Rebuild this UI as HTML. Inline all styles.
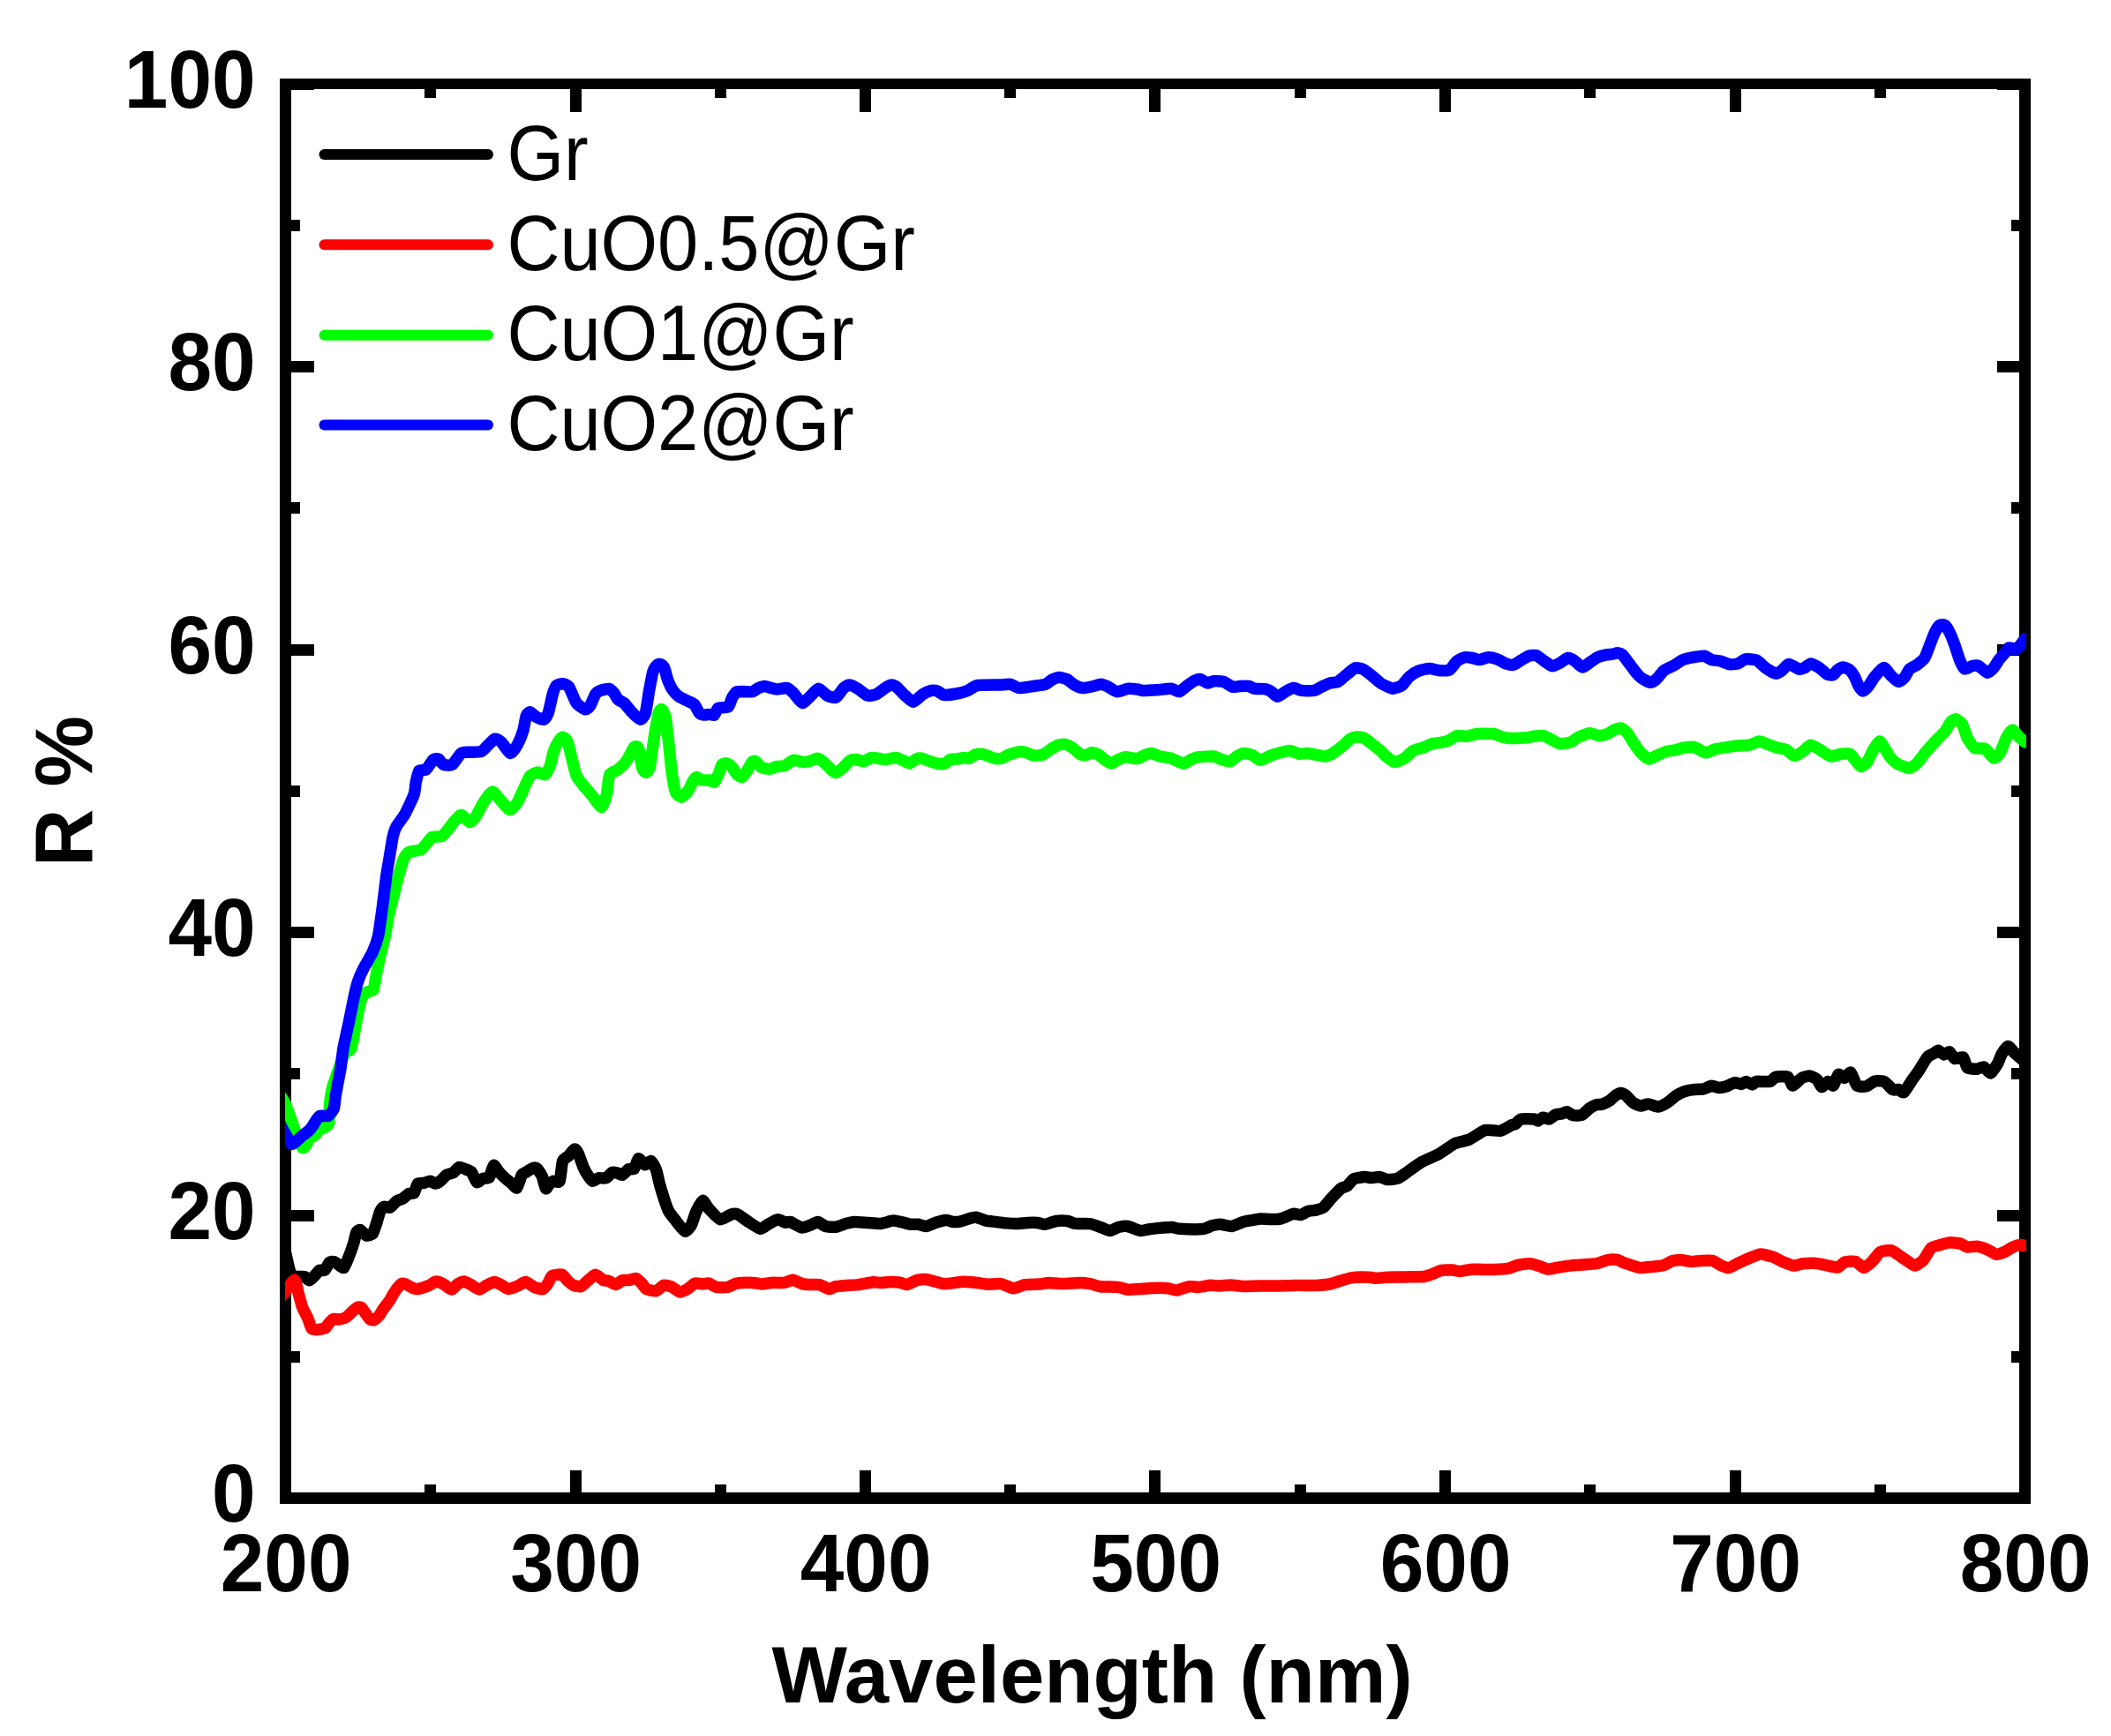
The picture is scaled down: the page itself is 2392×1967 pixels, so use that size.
<!DOCTYPE html>
<html lang="en"><head><meta charset="utf-8"><title>R % vs Wavelength</title>
<style>html,body{margin:0;padding:0;background:#fff;}body{width:2392px;height:1967px;overflow:hidden;}svg{display:block;}text{font-family:"Liberation Sans",sans-serif;fill:#000;}.b{font-weight:bold;font-size:90px;}.l{font-size:83.5px;}.c{fill:none;stroke-width:13.5;stroke-linejoin:round;stroke-linecap:round;}</style></head><body>
<svg width="2392" height="1967" viewBox="0 0 2392 1967">
<rect width="2392" height="1967" fill="#fff"/>
<defs><clipPath id="cp"><rect x="323" y="101" width="1973" height="1590"/></clipPath></defs>
<g id="frame" shape-rendering="crispEdges">
<rect x="317.00" y="89.00" width="13.00" height="1615.00" fill="#000"/>
<rect x="2288.00" y="89.00" width="13.00" height="1615.00" fill="#000"/>
<rect x="317.00" y="89.00" width="1984.00" height="12.00" fill="#000"/>
<rect x="317.00" y="1691.00" width="1984.00" height="13.00" fill="#000"/>
<rect x="317.00" y="95.00" width="13.00" height="32.00" fill="#000"/>
<rect x="317.00" y="1665.50" width="13.00" height="32.00" fill="#000"/>
<rect x="481.00" y="95.00" width="13.00" height="16.00" fill="#000"/>
<rect x="481.00" y="1681.50" width="13.00" height="16.00" fill="#000"/>
<rect x="646.00" y="95.00" width="13.00" height="32.00" fill="#000"/>
<rect x="646.00" y="1665.50" width="13.00" height="32.00" fill="#000"/>
<rect x="810.00" y="95.00" width="13.00" height="16.00" fill="#000"/>
<rect x="810.00" y="1681.50" width="13.00" height="16.00" fill="#000"/>
<rect x="974.00" y="95.00" width="13.00" height="32.00" fill="#000"/>
<rect x="974.00" y="1665.50" width="13.00" height="32.00" fill="#000"/>
<rect x="1138.00" y="95.00" width="13.00" height="16.00" fill="#000"/>
<rect x="1138.00" y="1681.50" width="13.00" height="16.00" fill="#000"/>
<rect x="1302.00" y="95.00" width="13.00" height="32.00" fill="#000"/>
<rect x="1302.00" y="1665.50" width="13.00" height="32.00" fill="#000"/>
<rect x="1467.00" y="95.00" width="13.00" height="16.00" fill="#000"/>
<rect x="1467.00" y="1681.50" width="13.00" height="16.00" fill="#000"/>
<rect x="1631.00" y="95.00" width="13.00" height="32.00" fill="#000"/>
<rect x="1631.00" y="1665.50" width="13.00" height="32.00" fill="#000"/>
<rect x="1795.00" y="95.00" width="13.00" height="16.00" fill="#000"/>
<rect x="1795.00" y="1681.50" width="13.00" height="16.00" fill="#000"/>
<rect x="1960.00" y="95.00" width="13.00" height="32.00" fill="#000"/>
<rect x="1960.00" y="1665.50" width="13.00" height="32.00" fill="#000"/>
<rect x="2124.00" y="95.00" width="13.00" height="16.00" fill="#000"/>
<rect x="2124.00" y="1681.50" width="13.00" height="16.00" fill="#000"/>
<rect x="2288.00" y="95.00" width="13.00" height="32.00" fill="#000"/>
<rect x="2288.00" y="1665.50" width="13.00" height="32.00" fill="#000"/>
<rect x="323.50" y="89.00" width="32.00" height="13.00" fill="#000"/>
<rect x="2262.50" y="89.00" width="32.00" height="13.00" fill="#000"/>
<rect x="323.50" y="249.00" width="16.00" height="13.00" fill="#000"/>
<rect x="2278.50" y="249.00" width="16.00" height="13.00" fill="#000"/>
<rect x="323.50" y="409.00" width="32.00" height="13.00" fill="#000"/>
<rect x="2262.50" y="409.00" width="32.00" height="13.00" fill="#000"/>
<rect x="323.50" y="569.00" width="16.00" height="13.00" fill="#000"/>
<rect x="2278.50" y="569.00" width="16.00" height="13.00" fill="#000"/>
<rect x="323.50" y="730.00" width="32.00" height="13.00" fill="#000"/>
<rect x="2262.50" y="730.00" width="32.00" height="13.00" fill="#000"/>
<rect x="323.50" y="890.00" width="16.00" height="13.00" fill="#000"/>
<rect x="2278.50" y="890.00" width="16.00" height="13.00" fill="#000"/>
<rect x="323.50" y="1050.00" width="32.00" height="13.00" fill="#000"/>
<rect x="2262.50" y="1050.00" width="32.00" height="13.00" fill="#000"/>
<rect x="323.50" y="1210.00" width="16.00" height="13.00" fill="#000"/>
<rect x="2278.50" y="1210.00" width="16.00" height="13.00" fill="#000"/>
<rect x="323.50" y="1371.00" width="32.00" height="13.00" fill="#000"/>
<rect x="2262.50" y="1371.00" width="32.00" height="13.00" fill="#000"/>
<rect x="323.50" y="1531.00" width="16.00" height="13.00" fill="#000"/>
<rect x="2278.50" y="1531.00" width="16.00" height="13.00" fill="#000"/>
<rect x="323.50" y="1691.00" width="32.00" height="13.00" fill="#000"/>
<rect x="2262.50" y="1691.00" width="32.00" height="13.00" fill="#000"/>
</g>
<g clip-path="url(#cp)">
<path class="c" stroke="#000000" d="M313.0,1375.4C314.0,1379.6 321.4,1410.5 323.0,1417.1C324.6,1423.7 327.7,1438.8 328.9,1441.7C330.1,1444.6 333.0,1445.9 334.6,1446.4C336.2,1446.9 343.5,1446.2 345.1,1446.6C346.7,1447.0 349.5,1450.9 350.7,1450.7C351.9,1450.5 356.3,1445.6 357.4,1444.5C358.5,1443.4 361.1,1439.8 362.1,1439.3C363.1,1438.8 366.7,1440.2 367.8,1439.3C368.9,1438.4 372.4,1431.2 373.5,1430.3C374.6,1429.3 378.0,1429.4 379.2,1429.8C380.4,1430.2 384.8,1433.9 385.8,1434.6C386.8,1435.3 388.8,1437.1 389.6,1436.5C390.4,1435.9 392.6,1430.2 393.4,1428.4C394.2,1426.6 396.4,1421.0 397.2,1418.9C398.0,1416.8 400.3,1409.8 401.0,1407.6C401.7,1405.4 403.1,1397.9 403.8,1396.5C404.5,1395.1 407.0,1393.2 408.1,1393.6C409.2,1393.9 413.8,1399.6 415.2,1400.0C416.6,1400.4 421.2,1399.2 422.3,1397.9C423.4,1396.6 425.6,1389.1 426.5,1386.5C427.4,1383.9 429.9,1374.2 430.8,1372.3C431.7,1370.4 434.0,1367.7 435.1,1367.3C436.2,1366.9 440.8,1368.7 442.2,1368.1C443.6,1367.5 447.9,1362.0 449.3,1361.0C450.7,1360.0 455.0,1359.0 456.4,1358.1C457.8,1357.2 462.2,1353.0 463.5,1352.4C464.8,1351.8 468.2,1352.8 469.2,1351.7C470.2,1350.6 472.3,1342.2 473.4,1341.1C474.5,1340.0 479.1,1340.6 480.5,1340.3C481.9,1340.0 486.3,1338.1 487.6,1338.2C488.9,1338.3 492.2,1341.1 493.3,1341.1C494.4,1341.1 497.7,1339.2 499.0,1338.2C500.3,1337.2 504.7,1332.0 506.1,1331.1C507.5,1330.2 511.8,1329.8 513.2,1329.0C514.6,1328.2 518.9,1323.0 520.3,1322.6C521.7,1322.2 526.0,1324.1 527.4,1324.7C528.8,1325.3 533.2,1326.8 534.5,1328.3C535.8,1329.8 538.9,1338.9 540.2,1339.6C541.5,1340.3 545.9,1336.0 547.3,1335.4C548.7,1334.8 553.2,1335.5 554.4,1334.0C555.6,1332.5 558.3,1321.1 559.4,1320.5C560.5,1319.9 564.4,1326.8 565.8,1328.3C567.1,1329.8 571.5,1334.1 572.9,1335.4C574.3,1336.7 578.7,1340.0 580.0,1341.1C581.3,1342.2 584.6,1347.0 585.7,1346.0C586.8,1345.0 590.4,1332.9 591.4,1331.1C592.4,1329.3 594.4,1329.2 595.7,1328.4C597.0,1327.6 602.9,1323.8 604.2,1323.4C605.5,1323.0 607.5,1323.2 608.5,1324.1C609.5,1325.0 613.2,1330.3 614.2,1332.6C615.2,1334.9 617.5,1345.9 618.4,1346.8C619.2,1347.7 621.9,1342.0 622.7,1341.2C623.6,1340.4 625.8,1338.6 626.9,1338.3C628.0,1338.0 633.0,1340.6 634.1,1338.3C635.2,1336.0 636.6,1318.4 637.6,1315.6C638.6,1312.8 642.6,1311.2 644.0,1309.9C645.4,1308.6 650.0,1302.4 651.1,1302.1C652.2,1301.8 654.4,1305.0 655.4,1307.1C656.4,1309.2 660.0,1320.2 661.1,1322.7C662.2,1325.2 665.6,1331.0 666.7,1332.6C667.8,1334.2 670.6,1338.1 671.7,1338.3C672.8,1338.5 676.6,1335.1 678.1,1334.8C679.6,1334.5 685.0,1335.4 686.6,1334.8C688.2,1334.2 692.4,1329.0 693.7,1328.4C695.0,1327.8 698.3,1328.8 699.4,1329.1C700.5,1329.4 703.8,1331.6 705.1,1331.2C706.4,1330.8 710.9,1325.5 712.2,1324.8C713.6,1324.1 717.5,1325.3 718.6,1324.1C719.7,1322.9 722.4,1313.1 723.6,1312.7C724.8,1312.3 729.3,1319.5 730.7,1319.8C732.1,1320.1 736.5,1315.0 737.8,1315.6C739.1,1316.2 742.5,1322.8 743.5,1325.5C744.5,1328.2 746.7,1339.0 747.7,1342.6C748.7,1346.2 752.4,1358.1 753.4,1361.1C754.4,1364.1 756.4,1370.1 757.7,1372.4C759.0,1374.7 764.4,1381.5 766.2,1383.8C768.1,1386.1 774.5,1394.8 776.2,1395.2C777.9,1395.6 782.0,1390.4 783.3,1388.1C784.6,1385.8 787.7,1375.2 789.0,1372.4C790.3,1369.6 794.7,1360.6 796.1,1360.3C797.5,1360.0 801.2,1367.5 803.2,1369.6C805.2,1371.7 813.5,1381.1 816.0,1381.7C818.5,1382.3 826.7,1376.6 828.7,1376.0C830.7,1375.4 834.0,1375.2 835.9,1376.0C837.8,1376.8 844.7,1382.2 847.2,1383.8C849.8,1385.4 859.0,1392.0 861.4,1392.3C863.8,1392.6 869.4,1387.7 871.4,1386.6C873.4,1385.5 879.5,1381.8 881.4,1381.7C883.2,1381.6 888.5,1384.9 889.9,1385.2C891.3,1385.5 893.8,1383.9 895.6,1384.5C897.5,1385.1 906.1,1390.5 908.4,1390.9C910.7,1391.3 916.5,1388.7 918.3,1388.1C920.1,1387.5 925.1,1384.4 926.8,1384.5C928.5,1384.6 933.4,1388.9 935.4,1389.5C937.4,1390.1 944.4,1390.5 946.7,1390.2C949.0,1389.9 956.0,1387.2 958.1,1386.6C960.2,1386.0 965.5,1384.6 968.1,1384.5C970.7,1384.4 980.7,1385.3 983.7,1385.5C986.7,1385.7 995.1,1386.6 997.9,1386.4C1000.7,1386.2 1009.7,1383.2 1012.1,1383.1C1014.5,1382.9 1020.1,1384.5 1022.1,1384.9C1024.1,1385.3 1030.2,1387.1 1032.0,1387.3C1033.8,1387.5 1038.8,1387.1 1040.5,1387.3C1042.2,1387.5 1047.1,1389.7 1049.1,1389.5C1051.1,1389.3 1058.1,1385.9 1060.4,1385.2C1062.7,1384.5 1069.8,1382.5 1071.8,1382.4C1073.8,1382.3 1078.6,1384.4 1080.3,1384.5C1082.0,1384.6 1087.2,1384.1 1088.9,1383.8C1090.6,1383.5 1095.7,1381.5 1097.4,1381.0C1099.1,1380.5 1103.9,1379.0 1105.9,1379.2C1107.9,1379.4 1115.0,1382.6 1117.3,1383.1C1119.6,1383.6 1126.3,1384.2 1128.6,1384.5C1130.9,1384.8 1137.7,1385.7 1140.0,1385.9C1142.3,1386.1 1149.0,1386.6 1151.4,1386.6C1153.8,1386.6 1161.8,1385.6 1164.2,1385.5C1166.6,1385.4 1173.6,1385.3 1175.6,1385.5C1177.6,1385.7 1182.0,1387.5 1184.1,1387.3C1186.2,1387.1 1194.3,1383.9 1196.9,1383.5C1199.5,1383.1 1207.6,1383.2 1209.7,1383.5C1211.8,1383.8 1215.6,1386.1 1218.2,1386.4C1220.8,1386.7 1232.3,1386.1 1235.3,1386.6C1238.3,1387.0 1245.8,1390.1 1248.1,1390.9C1250.4,1391.7 1256.0,1394.6 1258.0,1394.5C1260.0,1394.4 1266.0,1390.7 1268.0,1390.2C1270.0,1389.7 1275.5,1389.1 1277.9,1389.5C1280.3,1389.9 1289.5,1394.2 1292.1,1394.5C1294.7,1394.8 1300.0,1393.0 1303.5,1392.6C1307.0,1392.2 1324.3,1390.6 1327.6,1390.6C1330.9,1390.6 1332.6,1392.1 1336.2,1392.3C1339.8,1392.5 1359.5,1392.9 1363.2,1392.6C1366.9,1392.2 1371.1,1389.3 1373.1,1388.8C1375.1,1388.3 1380.8,1387.2 1383.1,1387.3C1385.4,1387.4 1393.4,1389.8 1395.9,1389.5C1398.5,1389.2 1406.2,1385.2 1408.6,1384.5C1411.0,1383.8 1418.0,1382.8 1420.0,1382.4C1422.0,1382.1 1426.5,1381.1 1428.5,1381.0C1430.5,1380.9 1437.6,1381.5 1439.9,1381.5C1442.2,1381.5 1448.7,1381.4 1451.3,1380.8C1453.9,1380.2 1463.2,1375.8 1465.5,1375.4C1467.8,1375.0 1472.4,1376.8 1474.1,1376.5C1475.8,1376.2 1480.9,1372.8 1482.6,1372.3C1484.3,1371.8 1489.4,1371.5 1491.1,1371.1C1492.8,1370.7 1497.9,1369.3 1499.6,1368.0C1501.3,1366.7 1506.2,1360.2 1508.2,1358.1C1510.2,1356.0 1517.7,1348.1 1519.5,1346.7C1521.3,1345.3 1525.2,1344.9 1526.6,1343.8C1528.0,1342.7 1531.7,1337.0 1533.7,1336.0C1535.7,1335.0 1544.5,1333.7 1546.5,1333.6C1548.5,1333.5 1551.9,1334.6 1553.6,1334.6C1555.3,1334.6 1561.8,1333.4 1563.6,1333.6C1565.4,1333.8 1570.1,1336.3 1572.1,1336.5C1574.1,1336.7 1581.4,1336.1 1583.5,1335.3C1585.6,1334.5 1590.7,1330.8 1593.4,1328.9C1596.1,1327.1 1606.8,1318.9 1610.5,1316.8C1614.2,1314.7 1626.6,1309.7 1630.4,1307.6C1634.2,1305.5 1645.5,1297.1 1648.9,1295.5C1652.3,1293.9 1661.1,1292.8 1664.5,1291.3C1667.9,1289.8 1679.5,1281.6 1683.0,1280.6C1686.5,1279.6 1697.0,1281.9 1700.0,1281.3C1703.0,1280.7 1711.1,1275.7 1712.8,1274.9C1714.5,1274.1 1716.0,1274.3 1717.1,1273.6C1718.2,1272.9 1721.4,1268.6 1723.5,1268.0C1725.6,1267.4 1736.5,1267.8 1738.4,1268.0C1740.3,1268.2 1741.7,1270.3 1742.7,1270.1C1743.7,1269.9 1747.1,1266.4 1748.4,1266.2C1749.7,1266.0 1754.1,1268.3 1755.5,1268.0C1756.9,1267.7 1761.2,1263.6 1762.6,1263.0C1764.0,1262.4 1768.4,1262.3 1769.7,1262.0C1771.0,1261.7 1774.1,1259.5 1775.4,1259.7C1776.7,1259.9 1780.8,1263.3 1782.5,1263.7C1784.2,1264.1 1790.6,1264.2 1792.4,1263.4C1794.2,1262.6 1799.4,1257.0 1801.0,1255.9C1802.6,1254.8 1806.7,1252.5 1808.1,1252.0C1809.5,1251.5 1813.6,1251.7 1815.2,1251.2C1816.8,1250.7 1822.1,1248.3 1823.7,1247.3C1825.3,1246.3 1829.5,1241.9 1830.8,1241.0C1832.1,1240.1 1835.4,1238.4 1836.5,1238.4C1837.6,1238.4 1840.8,1239.9 1842.2,1241.0C1843.6,1242.1 1849.0,1248.3 1850.7,1249.5C1852.4,1250.7 1857.5,1252.9 1859.2,1253.0C1860.9,1253.1 1865.7,1250.8 1867.7,1250.9C1869.7,1251.0 1877.0,1254.1 1879.1,1254.0C1881.2,1253.9 1887.1,1250.7 1889.1,1249.5C1891.1,1248.3 1897.0,1243.0 1899.0,1241.7C1901.0,1240.4 1907.0,1237.4 1909.0,1236.7C1911.0,1236.0 1916.8,1234.9 1918.9,1234.6C1921.0,1234.3 1928.2,1234.2 1930.3,1233.8C1932.4,1233.4 1937.8,1230.4 1939.5,1230.3C1941.2,1230.2 1945.7,1232.3 1947.3,1232.4C1948.9,1232.5 1954.1,1231.6 1955.9,1231.0C1957.8,1230.4 1964.1,1227.0 1965.8,1226.7C1967.5,1226.4 1971.6,1228.5 1972.9,1228.4C1974.2,1228.3 1977.3,1225.5 1978.6,1225.6C1979.9,1225.6 1984.6,1228.9 1985.7,1228.9C1986.8,1228.9 1988.0,1225.8 1990.0,1225.4C1992.0,1225.1 2003.4,1225.9 2005.6,1225.4C2007.8,1224.9 2009.9,1220.9 2011.9,1220.4C2013.9,1219.9 2024.0,1219.4 2026.0,1220.4C2028.0,1221.4 2029.8,1229.9 2031.4,1230.0C2033.0,1230.1 2039.6,1222.5 2041.6,1221.4C2043.6,1220.3 2049.3,1218.9 2051.0,1219.1C2052.7,1219.3 2057.5,1221.8 2058.8,1223.0C2060.1,1224.2 2063.1,1231.4 2064.3,1231.6C2065.6,1231.8 2070.0,1225.6 2071.3,1225.4C2072.6,1225.2 2076.3,1230.8 2077.5,1230.0C2078.7,1229.2 2081.8,1218.4 2083.0,1217.5C2084.2,1216.6 2088.6,1221.6 2090.0,1221.4C2091.4,1221.2 2095.7,1214.3 2097.1,1215.2C2098.5,1216.1 2102.3,1228.4 2104.1,1230.0C2105.9,1231.6 2113.1,1231.3 2115.1,1230.8C2117.1,1230.3 2122.4,1225.5 2124.4,1225.0C2126.4,1224.5 2133.4,1224.7 2135.4,1225.7C2137.4,1226.7 2143.2,1233.8 2144.8,1234.7C2146.4,1235.6 2149.8,1234.1 2151.0,1234.4C2152.2,1234.7 2155.7,1238.7 2157.3,1237.6C2158.9,1236.5 2164.9,1226.3 2166.6,1223.8C2168.3,1221.3 2172.8,1215.5 2174.5,1212.9C2176.2,1210.3 2182.1,1200.0 2183.8,1198.0C2185.5,1196.0 2190.4,1194.1 2191.7,1193.3C2192.9,1192.5 2195.2,1190.0 2196.3,1190.2C2197.4,1190.4 2201.3,1194.8 2202.6,1194.9C2203.9,1195.1 2207.7,1191.2 2208.9,1191.7C2210.2,1192.2 2213.5,1199.0 2215.1,1199.6C2216.7,1200.2 2223.1,1197.0 2224.5,1198.0C2225.9,1199.0 2227.6,1208.4 2229.2,1209.7C2230.8,1211.0 2238.2,1211.4 2240.1,1211.3C2242.0,1211.2 2246.3,1208.4 2247.9,1208.9C2249.5,1209.4 2254.2,1216.4 2255.8,1216.0C2257.4,1215.6 2262.3,1207.2 2263.6,1205.0C2264.8,1202.8 2267.1,1196.0 2268.3,1194.1C2269.5,1192.1 2273.9,1185.7 2275.3,1185.5C2276.7,1185.3 2280.4,1190.7 2282.3,1192.5C2284.2,1194.3 2293.3,1202.2 2294.5,1203.3"/>
<path class="c" stroke="#ff0000" d="M313.0,1476.3C314.0,1475.0 320.9,1466.3 323.0,1463.7C325.1,1461.1 332.2,1449.9 333.7,1450.2C335.2,1450.5 337.5,1463.2 338.4,1466.3C339.3,1469.4 341.7,1478.8 342.7,1481.5C343.7,1484.2 347.8,1491.4 348.8,1493.8C349.8,1496.2 352.2,1503.9 353.1,1505.2C354.0,1506.5 356.4,1506.5 357.4,1506.6C358.4,1506.7 362.0,1506.3 363.1,1506.1C364.2,1505.9 367.8,1505.4 368.7,1504.7C369.6,1504.0 371.6,1500.5 372.5,1499.5C373.4,1498.5 376.1,1495.2 377.3,1494.7C378.5,1494.2 383.3,1495.1 384.8,1494.9C386.3,1494.7 391.0,1493.3 392.4,1492.4C393.8,1491.5 397.9,1487.3 399.1,1486.2C400.3,1485.1 403.7,1482.0 404.7,1481.5C405.7,1481.0 408.6,1480.8 409.5,1481.5C410.4,1482.2 413.2,1486.8 414.2,1488.1C415.1,1489.4 418.1,1493.9 419.0,1494.7C419.9,1495.5 422.7,1496.1 423.7,1495.7C424.7,1495.3 428.4,1492.2 429.4,1491.0C430.4,1489.8 433.0,1485.0 434.1,1483.4C435.2,1481.8 439.7,1476.3 440.7,1474.8C441.7,1473.3 443.6,1469.6 444.5,1468.2C445.4,1466.8 448.2,1462.0 449.3,1460.6C450.4,1459.2 454.0,1455.1 455.0,1454.5C456.0,1453.9 458.6,1454.6 459.7,1455.0C460.8,1455.4 465.1,1458.1 466.3,1458.7C467.5,1459.3 470.8,1460.5 472.0,1460.6C473.2,1460.6 477.2,1459.6 478.6,1459.2C480.0,1458.8 484.7,1457.1 486.2,1456.4C487.7,1455.7 492.5,1452.4 493.8,1452.1C495.1,1451.8 498.4,1453.0 499.5,1453.5C500.6,1454.0 504.0,1456.0 505.2,1456.8C506.4,1457.6 510.4,1461.3 511.8,1461.1C513.2,1460.9 517.5,1455.6 518.9,1454.7C520.3,1453.8 524.4,1451.8 526.0,1451.9C527.6,1452.1 532.8,1455.3 534.5,1456.2C536.2,1457.1 541.4,1461.1 543.1,1461.1C544.8,1461.1 549.9,1457.0 551.6,1456.2C553.3,1455.4 558.4,1452.6 560.1,1452.6C561.8,1452.6 567.0,1455.4 568.6,1456.2C570.2,1457.0 574.1,1460.3 575.8,1460.4C577.5,1460.5 583.7,1458.4 585.7,1457.6C587.7,1456.8 593.6,1452.5 595.6,1452.6C597.6,1452.7 603.6,1457.6 605.6,1458.4C607.6,1459.2 614.0,1461.0 615.6,1460.5C617.2,1460.0 620.3,1454.9 621.3,1453.4C622.3,1451.9 623.9,1446.5 625.5,1445.6C627.1,1444.7 635.2,1443.7 636.9,1444.2C638.6,1444.7 641.3,1449.4 642.6,1450.6C643.9,1451.8 648.1,1455.6 649.7,1456.3C651.3,1457.0 656.5,1458.3 658.2,1457.7C659.9,1457.1 665.1,1451.9 666.7,1450.6C668.3,1449.2 672.9,1444.2 674.6,1444.2C676.3,1444.2 682.3,1449.9 683.8,1450.6C685.3,1451.3 688.1,1450.8 689.5,1451.3C690.9,1451.8 696.4,1455.7 698.0,1455.6C699.6,1455.5 703.7,1451.1 705.1,1450.6C706.5,1450.1 710.6,1450.8 712.2,1450.6C713.8,1450.4 719.1,1448.1 720.7,1448.5C722.3,1448.9 726.7,1453.7 727.8,1454.9C728.9,1456.1 730.5,1459.7 732.1,1460.5C733.7,1461.3 741.5,1463.1 743.5,1462.7C745.5,1462.3 750.3,1456.8 752.0,1456.3C753.7,1455.8 758.6,1456.9 760.5,1457.7C762.4,1458.5 768.6,1463.8 770.5,1464.1C772.4,1464.4 777.3,1461.5 779.0,1460.5C780.7,1459.5 785.8,1454.7 787.5,1454.1C789.2,1453.5 794.5,1454.9 796.1,1454.9C797.7,1454.9 801.6,1453.8 803.2,1454.1C804.8,1454.4 809.6,1458.0 811.7,1458.4C813.8,1458.8 822.2,1458.8 824.5,1458.4C826.8,1458.0 831.6,1454.6 834.4,1454.1C837.2,1453.6 850.0,1453.3 852.9,1453.4C855.8,1453.5 860.8,1454.9 862.9,1454.9C865.0,1454.9 871.6,1453.6 874.2,1453.4C876.8,1453.2 886.1,1453.7 888.5,1453.4C890.9,1453.1 896.3,1450.1 898.4,1450.3C900.5,1450.5 907.9,1454.4 909.8,1454.9C911.6,1455.4 915.0,1455.5 916.9,1455.6C918.8,1455.7 926.0,1455.1 928.3,1455.6C930.6,1456.1 937.8,1460.3 939.6,1460.5C941.4,1460.7 944.9,1458.1 946.7,1457.7C948.6,1457.3 955.5,1456.8 958.1,1456.6C960.7,1456.4 969.2,1456.0 972.3,1455.6C975.4,1455.2 986.8,1452.9 989.4,1452.7C992.0,1452.5 995.9,1453.4 997.9,1453.4C999.9,1453.4 1007.0,1452.4 1009.3,1452.4C1011.6,1452.4 1018.8,1453.1 1020.6,1453.4C1022.4,1453.7 1025.9,1455.9 1027.7,1455.6C1029.5,1455.3 1037.0,1451.2 1039.1,1450.6C1041.2,1450.0 1047.1,1449.4 1049.1,1449.5C1051.1,1449.6 1057.0,1451.5 1059.0,1452.0C1061.0,1452.5 1067.2,1454.4 1069.0,1454.6C1070.8,1454.8 1075.5,1454.3 1077.5,1454.1C1079.5,1453.9 1086.6,1452.5 1088.9,1452.4C1091.2,1452.3 1097.9,1452.5 1100.2,1452.7C1102.5,1452.9 1109.6,1453.8 1111.6,1454.1C1113.6,1454.4 1117.8,1455.2 1120.1,1455.3C1122.4,1455.3 1131.5,1454.1 1134.3,1454.6C1137.1,1455.0 1145.8,1459.7 1148.5,1459.8C1151.2,1459.9 1158.4,1456.1 1161.4,1455.6C1164.4,1455.1 1175.7,1455.3 1178.4,1455.1C1181.1,1454.9 1185.8,1453.5 1188.4,1453.4C1191.0,1453.4 1200.5,1454.6 1204.0,1454.6C1207.5,1454.6 1220.8,1453.4 1223.9,1453.4C1227.0,1453.4 1233.0,1454.2 1235.3,1454.6C1237.6,1455.0 1243.5,1457.3 1246.6,1457.7C1249.7,1458.1 1263.4,1458.1 1266.5,1458.4C1269.6,1458.8 1275.3,1461.0 1277.9,1461.2C1280.5,1461.4 1289.3,1460.7 1292.1,1460.5C1294.9,1460.3 1303.2,1459.6 1306.3,1459.5C1309.4,1459.4 1320.7,1459.5 1323.4,1459.8C1326.1,1460.0 1330.9,1462.2 1333.3,1462.0C1335.7,1461.8 1345.1,1458.1 1347.5,1457.7C1349.9,1457.3 1355.1,1458.5 1357.5,1458.4C1359.9,1458.3 1369.4,1456.4 1371.7,1456.3C1374.0,1456.2 1377.9,1457.0 1380.2,1457.0C1382.5,1457.0 1391.6,1456.0 1394.4,1456.0C1397.2,1456.0 1405.3,1457.3 1408.6,1457.4C1411.9,1457.5 1423.1,1457.0 1427.1,1457.0C1431.1,1457.0 1444.7,1457.2 1448.5,1457.1C1452.3,1457.0 1461.2,1456.5 1465.5,1456.4C1469.8,1456.3 1487.0,1456.5 1491.1,1456.4C1495.2,1456.3 1503.9,1455.5 1506.7,1455.0C1509.5,1454.5 1516.9,1451.8 1519.5,1451.1C1522.1,1450.4 1529.0,1448.0 1532.3,1447.6C1535.6,1447.2 1549.5,1447.2 1552.2,1447.3C1554.9,1447.4 1557.3,1448.3 1559.3,1448.3C1561.3,1448.3 1568.8,1447.4 1572.1,1447.3C1575.4,1447.2 1587.9,1447.0 1592.0,1446.9C1596.1,1446.8 1610.3,1446.8 1613.3,1446.5C1616.3,1446.2 1619.9,1444.7 1621.9,1444.0C1623.9,1443.3 1630.8,1439.8 1633.2,1439.3C1635.6,1438.8 1643.9,1439.0 1646.0,1439.1C1648.1,1439.2 1652.5,1440.6 1654.5,1440.5C1656.5,1440.4 1663.3,1438.6 1665.9,1438.4C1668.5,1438.2 1677.4,1438.4 1680.1,1438.4C1682.8,1438.4 1690.1,1438.5 1692.9,1438.4C1695.7,1438.3 1705.8,1437.9 1708.5,1437.4C1711.2,1436.9 1717.3,1434.0 1719.9,1433.4C1722.5,1432.8 1731.8,1431.6 1734.2,1431.7C1736.6,1431.8 1742.1,1433.9 1744.1,1434.5C1746.1,1435.1 1751.8,1438.0 1754.1,1438.1C1756.4,1438.2 1763.8,1436.4 1766.8,1435.9C1769.8,1435.4 1779.6,1433.9 1783.9,1433.5C1788.2,1433.1 1805.8,1432.3 1809.5,1431.7C1813.2,1431.1 1818.5,1428.2 1820.8,1427.8C1823.1,1427.4 1830.2,1427.1 1832.2,1427.4C1834.2,1427.7 1838.1,1430.1 1840.7,1431.0C1843.3,1431.9 1855.0,1436.0 1857.8,1436.4C1860.6,1436.9 1866.5,1435.8 1869.2,1435.5C1871.9,1435.2 1882.2,1434.5 1884.8,1433.8C1887.3,1433.1 1892.6,1429.4 1894.7,1428.8C1896.8,1428.2 1904.0,1427.7 1906.1,1427.8C1908.2,1427.9 1914.0,1429.4 1916.1,1429.5C1918.2,1429.6 1925.0,1428.5 1927.4,1428.4C1929.8,1428.3 1937.9,1427.9 1940.2,1428.4C1942.5,1428.9 1948.4,1433.0 1950.2,1433.8C1952.0,1434.6 1956.7,1436.9 1958.7,1436.6C1960.7,1436.3 1967.7,1432.1 1970.1,1431.0C1972.5,1429.9 1980.5,1426.3 1982.9,1425.3C1985.3,1424.3 1992.5,1421.4 1994.2,1421.0C1995.9,1420.6 1997.8,1421.2 1999.4,1421.6C2001.0,1422.0 2008.1,1423.8 2010.3,1424.7C2012.5,1425.6 2019.1,1429.3 2021.3,1430.2C2023.5,1431.1 2030.0,1433.9 2032.2,1434.1C2034.4,1434.3 2040.9,1432.1 2043.2,1431.8C2045.5,1431.5 2053.2,1431.1 2055.7,1431.3C2058.2,1431.5 2065.5,1432.8 2068.2,1433.3C2070.8,1433.8 2080.0,1436.3 2082.2,1436.0C2084.4,1435.7 2088.0,1430.9 2090.0,1430.2C2092.0,1429.5 2100.4,1428.8 2102.6,1429.4C2104.8,1430.0 2110.0,1436.5 2111.9,1436.5C2113.8,1436.5 2119.4,1431.2 2121.3,1429.4C2123.2,1427.6 2128.5,1419.8 2130.7,1418.5C2132.9,1417.2 2140.9,1416.4 2143.2,1416.9C2145.5,1417.5 2152.2,1422.8 2154.1,1424.0C2156.0,1425.2 2160.4,1428.4 2162.0,1429.4C2163.6,1430.4 2168.1,1434.2 2169.8,1434.1C2171.5,1433.9 2177.3,1429.9 2179.2,1427.9C2181.1,1425.9 2186.6,1415.5 2188.5,1413.8C2190.4,1412.1 2195.9,1411.3 2197.9,1410.7C2199.9,1410.1 2206.6,1408.1 2208.9,1407.9C2211.2,1407.7 2219.4,1408.6 2221.4,1409.1C2223.4,1409.6 2227.3,1412.7 2229.2,1413.0C2231.1,1413.3 2237.9,1412.0 2240.1,1412.2C2242.3,1412.4 2248.9,1414.5 2251.1,1415.4C2253.3,1416.3 2260.0,1421.0 2262.0,1421.3C2264.0,1421.6 2269.5,1419.3 2271.4,1418.5C2273.3,1417.7 2278.9,1413.8 2280.8,1413.0C2282.7,1412.2 2288.7,1410.5 2290.1,1410.4C2291.5,1410.3 2294.1,1411.5 2294.5,1411.6"/>
<path class="c" stroke="#00ff00" d="M313.0,1234.4C314.0,1236.0 321.1,1245.9 323.0,1250.1C324.9,1254.3 330.6,1271.0 332.5,1276.0C334.4,1281.0 340.9,1298.1 342.4,1300.2C343.9,1302.3 346.4,1297.8 347.2,1296.8C348.0,1295.8 349.7,1290.9 350.6,1289.9C351.6,1288.9 355.6,1287.4 356.7,1286.4C357.8,1285.5 360.6,1281.4 361.8,1280.4C363.0,1279.5 367.7,1277.7 368.8,1276.9C369.9,1276.1 372.2,1275.1 372.7,1272.6C373.2,1270.1 373.2,1255.6 373.5,1251.8C373.8,1248.0 375.4,1237.8 376.1,1234.6C376.8,1231.4 379.2,1224.2 380.7,1220.0C382.2,1215.8 389.1,1196.2 390.8,1193.1C392.5,1189.9 396.5,1192.0 397.8,1188.5C399.1,1185.0 402.6,1163.7 403.7,1158.1C404.8,1152.5 408.1,1135.7 409.3,1132.3C410.5,1128.9 414.3,1125.1 415.7,1124.0C417.1,1122.9 422.1,1123.0 423.1,1121.2C424.1,1119.5 425.2,1110.2 425.9,1106.5C426.6,1102.8 429.5,1088.7 430.5,1084.3C431.5,1079.9 435.0,1067.0 436.0,1062.2C437.0,1057.4 439.6,1041.2 440.6,1036.4C441.6,1031.6 445.0,1018.7 446.1,1014.3C447.2,1009.9 450.6,996.3 451.7,992.2C452.8,988.1 456.0,976.4 457.2,973.7C458.4,971.0 461.6,966.5 463.6,965.4C465.6,964.3 474.9,964.0 477.5,962.3C480.1,960.6 487.0,950.3 489.4,948.8C491.8,947.3 498.9,948.8 501.4,947.0C503.9,945.2 512.3,933.6 514.3,931.3C516.3,929.0 520.8,924.3 521.7,923.6C522.7,922.9 522.7,923.1 523.8,923.9C524.9,924.7 530.8,931.6 532.4,931.7C534.0,931.8 537.9,926.9 539.5,924.6C541.1,922.3 546.1,911.8 548.0,909.0C549.9,906.2 556.0,897.0 558.0,896.9C560.0,896.8 565.9,905.5 567.9,907.6C569.9,909.7 575.9,917.4 577.8,917.5C579.6,917.6 584.7,911.7 586.4,909.0C588.1,906.3 593.5,893.5 594.9,890.5C596.3,887.5 599.2,880.8 600.6,879.2C602.0,877.6 607.4,875.0 609.1,874.9C610.8,874.8 616.2,878.4 617.6,877.7C619.0,877.0 622.3,870.5 623.3,867.8C624.3,865.1 626.6,853.5 627.6,850.7C628.6,847.9 632.2,841.0 633.3,839.4C634.4,837.8 637.2,835.0 638.2,835.1C639.2,835.2 642.3,838.5 643.2,840.8C644.1,843.1 646.5,854.0 647.5,857.8C648.5,861.6 651.9,876.1 653.2,879.2C654.5,882.3 658.6,887.0 660.3,889.1C662.0,891.2 668.1,897.9 670.2,900.5C672.3,903.1 679.9,914.7 681.6,914.7C683.3,914.7 686.4,904.2 687.3,900.5C688.2,896.8 689.5,880.5 690.8,877.7C692.1,874.9 698.2,873.7 700.1,872.1C702.0,870.5 708.2,864.7 710.0,862.1C711.8,859.5 717.1,847.9 718.5,846.5C719.9,845.1 722.6,845.5 723.5,847.9C724.4,850.3 726.9,867.7 727.8,870.5C728.7,873.3 731.2,875.6 732.1,875.5C733.0,875.4 735.4,873.1 736.3,869.1C737.2,865.1 740.3,841.1 741.3,835.0C742.3,828.9 745.4,811.1 746.3,808.0C747.1,804.9 749.0,803.3 749.8,803.7C750.6,804.1 753.3,808.5 754.1,812.3C754.9,816.1 757.0,835.9 757.7,842.1C758.4,848.4 760.4,869.3 761.2,874.8C762.0,880.3 764.4,894.7 765.5,897.5C766.6,900.3 770.5,903.3 771.9,903.2C773.3,903.1 778.4,898.0 779.7,896.1C781.1,894.2 784.4,886.3 785.4,884.7C786.4,883.1 788.6,880.6 789.6,880.5C790.6,880.4 793.9,883.6 795.3,884.0C796.7,884.4 802.4,883.8 803.8,884.0C805.2,884.2 808.4,887.0 809.5,886.2C810.6,885.4 813.6,878.2 814.5,876.2C815.4,874.2 817.2,867.4 818.1,866.3C819.0,865.2 822.6,864.6 823.7,864.9C824.8,865.2 828.3,867.8 829.4,869.1C830.5,870.4 834.0,876.5 835.1,877.6C836.2,878.7 839.7,880.9 840.8,880.5C841.9,880.1 845.4,875.1 846.5,873.4C847.6,871.7 851.2,864.5 852.2,863.4C853.2,862.3 855.4,862.1 856.4,862.7C857.4,863.3 860.5,868.2 862.1,869.1C863.7,870.0 870.2,871.3 872.1,871.2C874.0,871.1 878.9,868.8 880.6,868.4C882.3,868.0 887.2,868.4 889.1,867.7C891.0,867.0 897.0,861.7 899.1,861.3C901.2,860.9 908.4,863.3 910.4,863.4C912.4,863.5 917.4,862.4 919.0,862.0C920.6,861.6 924.7,859.1 926.1,859.2C927.5,859.3 931.6,862.1 933.2,863.4C934.8,864.7 940.3,870.8 941.7,872.0C943.1,873.2 946.1,875.6 947.4,875.5C948.7,875.4 952.9,871.9 954.5,870.5C956.1,869.1 961.4,863.0 963.0,862.0C964.6,861.0 968.5,860.5 970.1,860.6C971.7,860.7 976.9,862.9 978.6,862.7C980.3,862.5 985.6,858.9 987.2,858.5C988.8,858.1 992.7,859.0 994.3,859.2C995.9,859.4 1001.5,860.5 1002.8,860.6C1004.1,860.7 1005.9,860.1 1007.1,859.9C1008.3,859.7 1013.3,858.4 1014.9,858.5C1016.5,858.6 1021.1,860.7 1022.7,861.3C1024.3,861.9 1029.0,865.0 1030.6,864.9C1032.2,864.8 1037.1,860.5 1038.4,859.9C1039.8,859.3 1042.5,858.9 1044.1,859.2C1045.7,859.5 1052.0,862.1 1054.0,862.7C1056.0,863.3 1062.3,865.4 1064.0,865.6C1065.7,865.8 1069.8,865.4 1071.1,864.9C1072.4,864.4 1075.3,861.1 1076.7,860.6C1078.1,860.1 1083.7,860.1 1085.3,859.9C1086.9,859.7 1091.1,858.6 1092.4,858.5C1093.7,858.4 1096.8,859.6 1098.1,859.2C1099.4,858.8 1103.8,855.4 1105.2,854.9C1106.6,854.4 1110.9,854.1 1112.3,854.2C1113.7,854.3 1118.0,855.8 1119.4,856.3C1120.8,856.8 1124.9,858.9 1126.5,859.2C1128.1,859.5 1133.3,859.6 1135.0,859.2C1136.7,858.8 1141.9,855.5 1143.5,854.9C1145.1,854.3 1149.2,853.1 1150.6,852.8C1152.0,852.4 1156.3,851.3 1157.7,851.4C1159.1,851.5 1163.5,853.0 1164.9,853.5C1166.3,854.0 1170.3,856.2 1172.0,856.3C1173.7,856.4 1180.1,855.6 1181.9,854.9C1183.7,854.2 1188.7,850.3 1190.4,849.2C1192.1,848.1 1197.3,844.8 1199.0,844.2C1200.7,843.6 1205.8,843.1 1207.5,843.5C1209.2,843.9 1214.3,846.7 1216.0,847.8C1217.7,848.9 1223.1,854.1 1224.5,854.9C1225.9,855.7 1228.9,855.8 1230.2,855.6C1231.5,855.4 1235.9,852.9 1237.3,852.8C1238.7,852.7 1243.0,854.1 1244.4,854.9C1245.8,855.7 1250.0,859.6 1251.5,860.6C1253.0,861.6 1257.8,864.9 1259.4,864.9C1261.0,864.9 1265.6,861.3 1267.2,860.6C1268.8,859.9 1274.0,857.8 1275.7,857.7C1277.4,857.6 1282.8,859.1 1284.2,859.2C1285.6,859.4 1288.5,859.6 1289.9,859.2C1291.3,858.8 1297.0,855.5 1298.5,854.9C1300.0,854.3 1303.3,853.3 1304.9,853.5C1306.5,853.7 1311.9,856.4 1314.1,857.0C1316.3,857.6 1324.2,858.4 1326.9,859.2C1329.6,860.0 1338.8,864.8 1341.1,864.9C1343.4,865.0 1347.9,861.3 1349.6,860.6C1351.3,859.9 1355.6,858.1 1358.2,857.7C1360.8,857.3 1372.8,856.8 1375.2,857.0C1377.6,857.2 1380.5,859.3 1382.3,859.9C1384.1,860.5 1391.7,863.1 1393.7,862.7C1395.7,862.3 1400.6,857.2 1402.2,856.3C1403.8,855.4 1408.3,853.6 1410.0,853.5C1411.7,853.4 1417.5,854.8 1419.3,855.6C1421.1,856.4 1425.8,861.2 1427.8,861.3C1429.8,861.4 1436.9,857.1 1439.2,856.3C1441.5,855.4 1448.2,853.4 1450.5,852.8C1452.8,852.2 1459.8,850.3 1461.9,850.4C1464.0,850.5 1469.9,853.9 1471.9,854.2C1473.9,854.5 1479.7,853.4 1481.8,853.5C1483.9,853.6 1491.2,855.2 1493.2,855.6C1495.2,856.0 1500.0,857.2 1501.7,857.0C1503.4,856.8 1508.2,854.7 1510.2,853.5C1512.2,852.3 1519.6,846.6 1521.6,845.0C1523.6,843.4 1528.5,838.1 1530.1,837.1C1531.7,836.1 1535.6,835.1 1537.2,835.0C1538.8,834.9 1543.8,835.4 1545.8,836.4C1547.8,837.4 1555.3,843.6 1557.1,845.0C1558.9,846.4 1562.9,849.5 1564.2,850.6C1565.5,851.7 1568.3,855.0 1569.9,856.3C1571.5,857.6 1577.8,863.1 1579.9,863.4C1582.0,863.7 1589.2,860.5 1591.3,859.2C1593.4,857.9 1599.1,851.8 1601.2,850.6C1603.3,849.4 1610.5,847.9 1612.6,847.1C1614.7,846.3 1620.5,843.4 1622.5,842.8C1624.5,842.2 1630.5,841.8 1632.5,841.4C1634.5,841.0 1640.6,839.4 1642.4,838.6C1644.2,837.8 1649.0,834.0 1651.0,833.6C1653.0,833.2 1660.0,834.5 1662.3,834.3C1664.6,834.1 1670.7,831.8 1673.7,831.5C1676.7,831.2 1689.4,831.1 1692.2,831.5C1695.0,831.9 1700.3,834.5 1702.1,835.0C1703.9,835.5 1707.8,836.3 1710.6,836.4C1713.4,836.5 1727.8,835.9 1730.5,835.7C1733.2,835.5 1735.8,834.5 1737.6,834.3C1739.4,834.1 1746.9,833.2 1749.0,833.6C1751.1,834.0 1757.2,837.7 1759.0,838.6C1760.8,839.5 1765.4,842.6 1767.5,842.8C1769.6,843.0 1778.2,841.5 1780.3,840.7C1782.4,839.9 1786.7,836.0 1788.8,835.0C1790.9,834.0 1799.3,830.8 1801.6,830.7C1803.9,830.6 1809.5,833.5 1811.5,833.6C1813.5,833.7 1819.7,832.2 1821.5,831.5C1823.3,830.8 1828.4,827.1 1830.0,826.5C1831.6,825.9 1835.7,824.7 1837.1,825.1C1838.5,825.5 1842.8,829.0 1844.2,830.7C1845.6,832.4 1849.9,840.0 1851.3,842.1C1852.7,844.2 1856.8,850.3 1858.5,852.1C1860.2,853.9 1866.4,859.5 1868.4,859.9C1870.4,860.2 1876.4,856.5 1878.4,855.6C1880.4,854.8 1886.3,852.0 1888.3,851.4C1890.3,850.8 1896.3,850.3 1898.3,849.9C1900.3,849.5 1906.1,847.5 1908.2,847.1C1910.3,846.8 1917.2,845.8 1919.6,846.4C1922.0,847.0 1930.1,852.5 1932.4,852.8C1934.7,853.1 1940.2,849.8 1942.3,849.2C1944.4,848.6 1951.1,847.5 1953.7,847.1C1956.3,846.7 1965.1,845.3 1967.9,845.0C1970.7,844.7 1979.5,844.7 1982.1,844.2C1984.7,843.7 1991.4,840.1 1993.5,840.0C1995.6,839.9 2001.4,842.8 2003.4,843.5C2005.4,844.2 2011.4,846.5 2013.4,847.1C2015.4,847.7 2021.3,848.3 2023.3,849.2C2025.3,850.1 2031.5,856.0 2033.3,856.3C2035.1,856.6 2040.0,853.3 2041.8,852.1C2043.6,850.9 2049.7,844.5 2051.7,844.2C2053.7,843.9 2059.4,847.9 2061.7,849.2C2064.0,850.5 2072.1,856.5 2074.5,857.0C2076.9,857.5 2083.8,854.5 2085.9,854.2C2088.0,853.9 2094.1,853.4 2095.8,854.2C2097.5,855.0 2101.6,860.6 2102.9,862.0C2104.2,863.4 2107.3,868.3 2108.6,868.4C2109.9,868.5 2114.3,865.3 2115.7,863.4C2117.1,861.5 2121.4,851.5 2122.8,849.2C2124.2,846.9 2128.6,840.2 2129.9,840.0C2131.2,839.8 2134.1,845.7 2135.4,847.6C2136.7,849.5 2140.9,857.1 2142.5,859.0C2144.1,860.9 2149.0,865.0 2151.1,866.1C2153.2,867.2 2161.7,870.4 2163.8,870.3C2165.9,870.1 2170.6,866.4 2172.4,864.6C2174.2,862.8 2180.2,854.4 2182.3,851.9C2184.4,849.4 2191.6,841.4 2193.7,839.1C2195.8,836.8 2201.9,831.2 2203.6,829.1C2205.3,827.0 2209.4,819.1 2210.7,817.7C2212.0,816.3 2215.1,814.6 2216.4,814.9C2217.7,815.2 2222.2,818.5 2223.5,820.6C2224.8,822.7 2227.8,833.5 2229.2,836.2C2230.6,838.9 2235.7,846.4 2237.7,847.6C2239.7,848.8 2247.0,847.2 2249.1,848.3C2251.2,849.4 2257.4,858.5 2259.1,859.0C2260.8,859.5 2264.8,855.6 2266.2,853.3C2267.6,851.0 2271.9,838.8 2273.3,836.2C2274.7,833.6 2279.0,827.1 2280.4,827.0C2281.8,826.9 2286.1,833.4 2287.5,834.8C2288.9,836.2 2293.8,840.2 2294.5,840.8"/>
<path class="c" stroke="#0000ff" d="M313.0,1266.5C314.0,1268.3 321.2,1281.3 323.0,1284.3C324.8,1287.3 329.1,1295.5 330.5,1296.3C331.9,1297.1 335.9,1292.9 337.0,1292.0C338.1,1291.1 340.8,1288.3 342.0,1287.3C343.2,1286.3 347.7,1283.2 348.9,1282.1C350.1,1281.0 353.2,1277.3 354.1,1276.0C355.1,1274.7 357.5,1270.3 358.4,1269.1C359.3,1267.9 361.4,1264.9 362.7,1264.4C364.0,1263.9 370.2,1265.2 371.8,1264.4C373.4,1263.6 377.5,1258.3 378.3,1256.2C379.1,1254.1 379.6,1246.0 380.0,1243.2C380.4,1240.4 382.0,1231.8 382.6,1228.5C383.2,1225.2 385.4,1214.5 386.0,1210.4C386.6,1206.3 388.1,1192.8 389.0,1187.6C389.9,1182.4 394.2,1163.8 395.4,1158.1C396.6,1152.4 400.0,1135.0 401.0,1130.4C402.0,1125.8 404.5,1115.3 405.6,1112.0C406.7,1108.7 410.3,1100.5 412.0,1097.2C413.7,1093.9 420.5,1082.5 422.2,1078.8C423.9,1075.1 427.5,1065.4 428.6,1060.4C429.7,1055.4 432.3,1035.8 433.2,1029.0C434.1,1022.2 437.0,998.1 437.8,992.2C438.6,986.3 440.8,974.4 441.5,970.0C442.2,965.6 444.5,951.2 445.2,947.9C445.9,944.6 447.5,939.5 448.9,936.9C450.3,934.3 457.0,925.8 459.0,922.1C461.0,918.4 468.0,903.6 469.2,900.0C470.4,896.4 470.7,888.9 471.3,886.3C471.9,883.6 473.7,874.9 474.8,873.5C475.9,872.1 481.0,873.4 482.6,872.1C484.2,870.8 489.8,861.9 491.2,860.7C492.6,859.5 495.7,859.4 496.8,860.0C497.9,860.6 500.9,865.8 502.5,866.4C504.1,867.0 510.5,867.7 512.5,866.4C514.5,865.1 520.5,855.0 522.4,853.6C524.2,852.2 528.7,852.4 531.0,852.2C533.3,852.0 542.9,852.4 545.2,851.5C547.5,850.6 552.1,845.0 553.7,843.6C555.3,842.2 559.4,837.5 560.8,837.2C562.2,836.9 566.1,839.2 567.9,840.8C569.7,842.4 576.8,853.3 578.6,853.6C580.5,853.9 585.0,846.2 586.4,843.6C587.8,841.0 591.8,831.3 592.8,828.0C593.8,824.7 595.5,813.1 596.3,811.0C597.1,808.9 599.5,806.6 600.6,806.7C601.7,806.8 606.1,811.5 607.7,812.4C609.3,813.2 614.9,815.6 616.2,815.2C617.6,814.8 620.2,810.9 621.2,808.1C622.2,805.3 625.3,789.9 626.2,786.8C627.1,783.7 629.3,778.0 630.4,776.8C631.5,775.6 636.1,774.6 637.5,774.7C638.9,774.9 643.0,776.1 644.6,778.3C646.2,780.5 651.4,794.2 653.2,796.7C655.1,799.2 661.5,803.5 663.1,803.8C664.7,804.1 667.7,801.3 668.8,799.6C669.9,797.9 673.4,788.5 674.5,786.8C675.6,785.1 678.6,783.1 680.2,782.5C681.8,781.9 688.5,780.1 690.1,780.4C691.7,780.7 694.8,784.2 695.8,785.4C696.8,786.6 699.0,791.4 700.1,792.5C701.2,793.6 705.6,795.3 707.2,796.7C708.8,798.1 713.9,804.9 715.7,806.7C717.5,808.6 724.0,815.1 725.6,815.2C727.2,815.3 730.4,811.3 731.4,808.0C732.4,804.7 734.8,787.1 735.6,782.4C736.5,777.7 739.0,764.0 739.9,761.1C740.8,758.2 744.0,754.1 744.9,753.3C745.8,752.4 747.6,752.2 748.4,752.6C749.2,753.0 751.9,754.9 752.7,756.8C753.6,758.6 755.9,768.5 756.9,771.1C757.9,773.7 761.3,780.6 762.6,782.4C763.9,784.2 768.0,788.3 769.7,789.5C771.4,790.7 778.0,793.6 779.7,794.5C781.4,795.4 785.5,796.8 786.8,798.1C788.1,799.5 791.4,806.8 792.5,808.0C793.6,809.2 796.4,810.0 797.5,810.1C798.6,810.2 802.6,809.4 803.8,809.4C805.0,809.4 808.5,810.8 809.5,810.1C810.5,809.4 812.2,803.2 813.8,802.3C815.4,801.4 823.6,802.0 825.2,800.9C826.8,799.8 828.4,792.7 829.4,791.0C830.4,789.3 832.8,784.5 835.1,783.8C837.4,783.1 849.8,784.2 852.2,783.8C854.6,783.4 857.9,780.2 859.3,779.6C860.7,779.0 865.0,777.5 866.4,777.5C867.8,777.5 872.1,779.2 873.5,779.6C874.9,780.0 878.8,781.0 880.6,781.0C882.5,781.0 890.1,779.2 892.0,779.6C893.9,780.0 897.4,783.6 899.1,785.3C900.8,787.0 907.0,796.3 909.0,796.6C911.0,796.9 917.1,789.7 919.0,788.1C920.9,786.5 925.7,780.3 927.5,780.3C929.3,780.3 935.4,787.1 937.4,788.1C939.4,789.1 945.5,791.1 947.4,790.2C949.2,789.4 954.3,781.0 955.9,779.6C957.5,778.2 961.3,775.9 963.0,776.0C964.7,776.1 971.0,779.8 973.0,781.0C975.0,782.2 980.9,787.5 982.9,788.1C984.9,788.7 990.9,787.6 992.9,786.7C994.9,785.9 1001.1,780.7 1002.8,779.6C1004.5,778.5 1008.6,776.1 1009.9,776.0C1011.2,775.9 1014.0,777.0 1015.6,778.2C1017.2,779.4 1023.7,786.4 1025.6,788.1C1027.5,789.8 1032.8,795.3 1034.8,795.2C1036.8,795.1 1043.4,788.0 1045.5,786.7C1047.6,785.4 1053.7,782.8 1055.4,782.4C1057.1,782.0 1061.1,782.6 1062.5,783.1C1063.9,783.6 1067.5,787.1 1069.6,787.4C1071.7,787.7 1081.1,786.5 1083.8,786.0C1086.5,785.5 1094.2,783.4 1096.6,782.4C1099.0,781.4 1104.2,777.1 1108.0,776.5C1111.8,775.9 1131.3,776.1 1135.0,776.0C1138.7,775.9 1143.0,774.9 1145.0,775.3C1147.0,775.7 1152.4,779.4 1154.9,779.6C1157.5,779.8 1167.5,777.9 1170.5,777.5C1173.5,777.1 1182.6,776.0 1184.7,775.3C1186.8,774.6 1190.4,771.1 1191.9,770.3C1193.4,769.5 1198.0,767.6 1199.7,767.5C1201.4,767.4 1207.1,768.8 1208.9,769.6C1210.7,770.5 1215.6,775.0 1217.4,776.0C1219.2,777.0 1225.3,779.5 1227.4,779.6C1229.5,779.8 1236.7,777.9 1238.7,777.5C1240.7,777.1 1245.6,775.2 1247.3,775.3C1249.0,775.4 1254.0,777.4 1255.8,778.2C1257.6,779.1 1263.5,783.6 1265.8,783.8C1268.1,784.0 1276.1,780.5 1278.5,780.3C1280.9,780.0 1288.3,781.1 1289.9,781.3C1291.5,781.5 1292.1,782.4 1294.2,782.4C1296.3,782.4 1308.0,781.9 1311.3,781.7C1314.6,781.5 1324.4,780.1 1326.9,780.3C1329.4,780.5 1334.2,784.2 1336.1,783.8C1337.9,783.4 1343.6,778.0 1345.4,776.7C1347.2,775.4 1352.4,771.8 1353.9,771.1C1355.4,770.4 1358.9,769.3 1360.3,769.6C1361.7,769.9 1366.6,773.7 1368.1,773.9C1369.6,774.1 1373.4,771.9 1375.2,771.8C1377.0,771.7 1384.5,771.9 1386.6,772.5C1388.7,773.1 1394.7,777.7 1396.5,778.2C1398.3,778.7 1403.2,777.6 1405.1,777.5C1406.9,777.4 1413.3,777.2 1415.0,777.5C1416.7,777.8 1420.2,780.0 1422.1,780.3C1423.9,780.6 1431.7,780.4 1433.5,780.7C1435.3,781.1 1439.2,782.9 1440.6,783.8C1442.0,784.6 1446.0,789.3 1447.7,789.2C1449.4,789.1 1455.8,784.1 1457.6,783.1C1459.4,782.1 1464.5,779.7 1466.2,779.6C1467.9,779.5 1472.4,782.1 1474.7,782.4C1477.0,782.7 1486.6,782.8 1488.9,782.4C1491.2,782.0 1495.6,779.1 1497.4,778.2C1499.2,777.4 1505.6,774.5 1507.4,773.9C1509.2,773.3 1513.9,773.6 1515.9,772.5C1517.9,771.4 1525.3,764.8 1527.3,763.2C1529.3,761.6 1534.1,757.3 1535.8,756.8C1537.5,756.3 1542.5,757.4 1544.3,758.3C1546.1,759.2 1552.3,763.8 1554.3,765.4C1556.3,767.0 1562.4,772.6 1564.2,773.9C1566.0,775.2 1571.4,777.6 1572.8,778.2C1574.2,778.8 1576.9,780.4 1578.5,780.3C1580.1,780.1 1586.6,778.1 1588.4,776.7C1590.2,775.4 1595.1,768.4 1596.9,766.8C1598.8,765.2 1604.6,761.3 1606.9,760.4C1609.2,759.5 1617.3,757.7 1619.7,757.6C1622.1,757.5 1628.8,759.6 1631.1,759.7C1633.4,759.8 1640.4,760.1 1642.4,759.0C1644.4,757.9 1649.3,750.4 1651.0,749.0C1652.7,747.6 1657.8,745.1 1659.5,744.8C1661.2,744.4 1666.3,745.2 1668.0,745.5C1669.7,745.8 1674.7,747.7 1676.5,747.6C1678.3,747.5 1684.5,744.9 1686.5,744.8C1688.5,744.7 1694.4,746.2 1696.4,746.9C1698.4,747.6 1704.6,751.3 1706.4,751.9C1708.2,752.5 1713.2,753.7 1714.9,753.3C1716.6,752.9 1721.7,749.3 1723.4,748.3C1725.1,747.3 1730.3,743.9 1732.0,743.3C1733.7,742.7 1738.8,742.1 1740.5,742.6C1742.2,743.1 1747.2,747.1 1749.0,748.3C1750.8,749.5 1757.2,754.4 1759.0,754.7C1760.8,755.0 1765.7,752.1 1767.5,751.2C1769.3,750.3 1775.0,745.7 1776.7,745.5C1778.4,745.3 1782.9,747.9 1784.5,749.0C1786.1,750.1 1791.4,756.0 1793.1,756.1C1794.8,756.2 1799.9,751.6 1801.6,750.5C1803.3,749.4 1808.2,745.7 1810.1,744.8C1811.9,743.9 1818.4,742.3 1820.1,741.9C1821.8,741.5 1825.9,741.4 1827.2,741.2C1828.5,741.0 1831.8,739.7 1832.9,739.8C1834.0,739.9 1837.2,740.8 1838.5,741.9C1839.8,743.0 1844.0,749.1 1845.6,751.2C1847.2,753.3 1852.8,760.8 1854.2,762.5C1855.6,764.2 1858.3,767.1 1859.9,768.2C1861.5,769.3 1868.1,773.1 1869.8,773.2C1871.5,773.3 1875.3,771.0 1876.9,769.6C1878.5,768.2 1883.5,761.3 1885.5,759.7C1887.5,758.1 1894.7,755.2 1896.8,754.0C1898.9,752.8 1904.7,748.5 1906.8,747.6C1908.9,746.7 1915.8,745.2 1918.2,744.8C1920.6,744.4 1928.9,743.0 1931.0,743.3C1933.1,743.6 1937.7,747.0 1939.5,747.6C1941.3,748.2 1947.4,748.5 1949.4,749.0C1951.4,749.5 1957.4,752.3 1959.4,752.6C1961.4,752.9 1967.5,752.5 1969.3,751.9C1971.1,751.3 1975.7,747.3 1977.8,746.9C1979.9,746.5 1988.3,747.3 1990.6,748.3C1992.9,749.3 1998.5,755.3 2000.6,756.8C2002.7,758.3 2010.2,762.9 2012.0,763.2C2013.8,763.5 2017.6,760.8 2019.1,759.7C2020.6,758.6 2024.9,752.7 2026.9,752.6C2028.9,752.5 2037.2,757.9 2039.0,758.3C2040.8,758.7 2043.3,757.4 2044.6,756.8C2045.9,756.2 2050.0,751.9 2051.7,751.9C2053.4,751.9 2059.8,755.6 2061.7,756.8C2063.5,758.0 2068.6,763.2 2070.2,764.0C2071.8,764.8 2076.2,765.1 2077.3,764.7C2078.4,764.3 2080.5,760.6 2081.6,759.7C2082.7,758.8 2086.6,756.2 2088.0,756.1C2089.4,756.0 2094.5,757.9 2095.8,759.0C2097.2,760.1 2100.5,765.0 2101.5,766.8C2102.5,768.6 2104.9,775.1 2105.8,776.7C2106.7,778.3 2109.6,783.0 2110.7,783.1C2111.8,783.2 2115.8,779.1 2117.1,777.5C2118.4,775.9 2122.6,768.8 2124.2,766.8C2125.8,764.8 2131.6,758.6 2132.8,757.6C2134.0,756.6 2135.1,756.5 2136.1,757.3C2137.1,758.1 2141.0,763.7 2142.5,765.2C2144.0,766.7 2149.5,772.1 2151.1,772.3C2152.7,772.5 2156.9,768.7 2158.2,767.3C2159.5,765.9 2162.4,759.5 2163.8,758.1C2165.2,756.7 2170.7,754.4 2172.4,753.1C2174.1,751.8 2179.5,747.5 2180.9,745.3C2182.3,743.1 2185.5,734.0 2186.6,731.1C2187.7,728.2 2191.2,719.1 2192.3,716.8C2193.4,714.5 2196.9,709.1 2198.0,708.3C2199.1,707.4 2202.5,707.4 2203.6,708.3C2204.7,709.1 2208.2,714.5 2209.3,716.8C2210.4,719.1 2213.9,728.0 2215.0,731.1C2216.1,734.2 2219.6,745.4 2220.7,748.1C2221.8,750.8 2225.0,757.5 2226.4,758.1C2227.8,758.7 2233.3,754.9 2234.9,754.5C2236.5,754.1 2240.3,753.7 2242.0,754.5C2243.7,755.3 2250.3,762.1 2252.0,762.3C2253.7,762.5 2257.8,758.0 2259.1,756.6C2260.4,755.2 2263.4,749.8 2264.7,748.1C2266.0,746.4 2270.8,741.0 2271.9,739.6C2273.0,738.2 2274.8,734.3 2276.1,733.9C2277.4,733.5 2283.2,735.7 2284.6,735.3C2286.0,734.9 2289.3,730.8 2290.3,729.6C2291.3,728.4 2294.1,724.3 2294.5,723.7"/>
</g>
<text class="b yl" transform="translate(289.5,121.6) scale(0.99,1.02)" text-anchor="end">100</text>
<text class="b yl" transform="translate(289.5,442.1) scale(0.99,1.02)" text-anchor="end">80</text>
<text class="b yl" transform="translate(289.5,762.6) scale(0.99,1.02)" text-anchor="end">60</text>
<text class="b yl" transform="translate(289.5,1083.1) scale(0.99,1.02)" text-anchor="end">40</text>
<text class="b yl" transform="translate(289.5,1403.6) scale(0.99,1.02)" text-anchor="end">20</text>
<text class="b yl" transform="translate(289.5,1724.1) scale(0.99,1.02)" text-anchor="end">0</text>
<text class="b xl" transform="translate(324.1,1802.6) scale(0.99,1.02)" text-anchor="middle">200</text>
<text class="b xl" transform="translate(652.6,1802.6) scale(0.99,1.02)" text-anchor="middle">300</text>
<text class="b xl" transform="translate(981.1,1802.6) scale(0.99,1.02)" text-anchor="middle">400</text>
<text class="b xl" transform="translate(1309.6,1802.6) scale(0.99,1.02)" text-anchor="middle">500</text>
<text class="b xl" transform="translate(1638.1,1802.6) scale(0.99,1.02)" text-anchor="middle">600</text>
<text class="b xl" transform="translate(1966.6,1802.6) scale(0.99,1.02)" text-anchor="middle">700</text>
<text class="b xl" transform="translate(2295.1,1802.6) scale(0.99,1.02)" text-anchor="middle">800</text>
<text class="b" id="xt" transform="translate(1237.6,1928.7) scale(1.006,1.0)" text-anchor="middle">Wavelength (nm)</text>
<text class="b" id="yt" transform="translate(104,896.6) rotate(-90) scale(1.006,1.02)" text-anchor="middle">R %</text>
<line x1="367.5" y1="175" x2="553" y2="175" stroke="#000000" stroke-width="12" stroke-linecap="round"/>
<text class="l" transform="translate(574.5,203.6) scale(0.994,1.056)">Gr</text>
<line x1="367.5" y1="277.3" x2="553" y2="277.3" stroke="#ff0000" stroke-width="12" stroke-linecap="round"/>
<text class="l" transform="translate(574.5,305.8) scale(0.994,1.056)">CuO0.5@Gr</text>
<line x1="367.5" y1="379.8" x2="553" y2="379.8" stroke="#00ff00" stroke-width="12" stroke-linecap="round"/>
<text class="l" transform="translate(574.5,408.0) scale(0.994,1.056)">CuO1@Gr</text>
<line x1="367.5" y1="481.6" x2="553" y2="481.6" stroke="#0000ff" stroke-width="12" stroke-linecap="round"/>
<text class="l" transform="translate(574.5,510.2) scale(0.994,1.056)">CuO2@Gr</text>
</svg></body></html>
